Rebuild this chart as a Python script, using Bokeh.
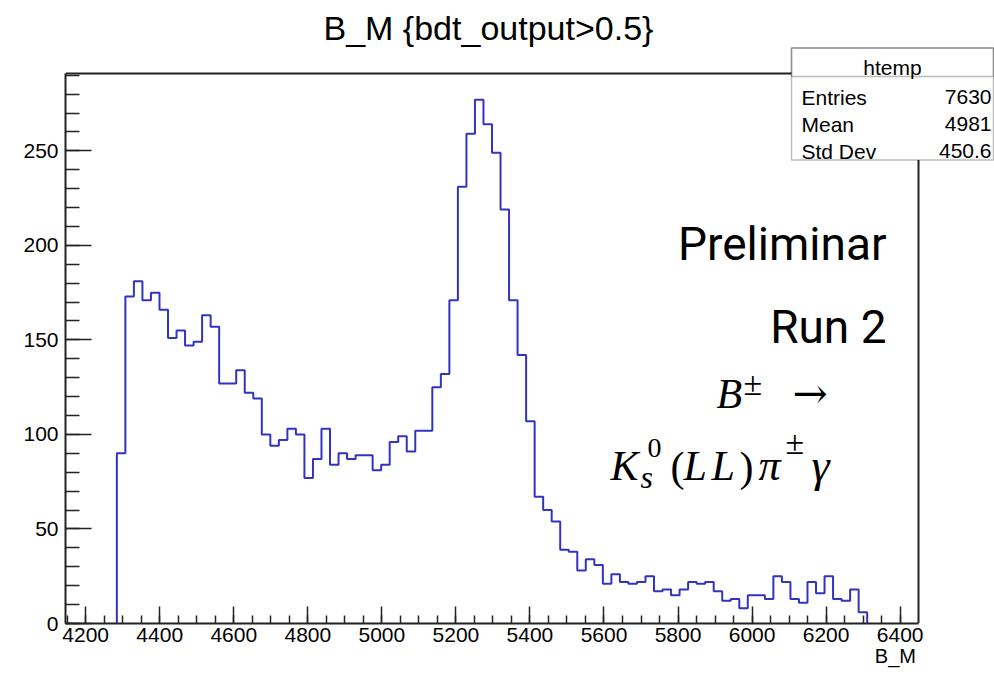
import numpy as np
from bokeh.plotting import figure
from bokeh.models import (Range1d, LinearAxis, FixedTicker, Label, BoxAnnotation, Title)
from bokeh.embed import file_html
from bokeh.resources import INLINE

# ---------------- data ----------------
bin_low = 4284.2
bin_width = 23.03
counts = [90, 173, 181, 171, 175, 166, 151, 155, 147, 149,
          163, 157, 127, 127, 134, 122, 119, 100, 94, 97,
          103, 100, 77, 87, 103, 84, 90, 87, 89, 89,
          81, 84, 96, 99, 91, 102, 102, 125, 132, 171,
          231, 259, 277, 264, 249, 219, 171, 142, 107, 67,
          60, 54, 39, 38, 28, 34, 31, 21, 26, 22,
          21, 22, 25, 17, 18, 15, 18, 22, 21, 22,
          17, 12, 13, 8, 15, 15, 13, 25, 22, 13,
          11, 22, 16, 25, 13, 12, 18, 6]
x_ticks = [4200, 4400, 4600, 4800, 5000, 5200, 5400, 5600, 5800, 6000, 6200, 6400]
y_ticks = [0, 50, 100, 150, 200, 250]
stats_title = "htemp"
stats_names = ["Entries", "Mean", "Std Dev"]
stats_values = ["7630", "4981", "450.6"]
title_text = "B_M {bdt_output>0.5}"
x_title = "B_M"

# ROOT frame (axis) range
RX0, RX1 = 4145.5, 6449.5
RY0, RY1 = 0.0, 290.9

# ---------------- geometry (pixels) ----------------
W, H = 994, 674
RL, RR, RT, RB = 65, 918, 73, 623       # ROOT frame on the canvas
FL, FR, FT, FB = 65, 994, 46, 623       # Bokeh frame (extended to hold the stats box)
sx = (RR - RL) / (RX1 - RX0)
sy = (RB - RT) / (RY1 - RY0)


def px2x(px):
    return RX0 + (px - RL) / sx


def px2y(py):
    return RY0 + (RB - py) / sy


p = figure(width=W, height=H,
           x_range=Range1d(px2x(FL), px2x(FR)), y_range=Range1d(px2y(FB), px2y(FT)),
           output_backend="svg", toolbar_location=None,
           x_axis_type=None, y_axis_type=None,
           min_border_left=FL, min_border_right=W - FR,
           min_border_top=FT, min_border_bottom=H - FB)
p.outline_line_color = None
p.background_fill_color = "white"
p.border_fill_color = "white"

AX_FONT = "Liberation Sans"
FRAME_COLOR = "#222222"

x_minor = list(np.arange(x_ticks[0] - 50, x_ticks[-1] + 1, 50))
y_minor = list(np.arange(0, 291, 10))

xaxis = LinearAxis(ticker=FixedTicker(ticks=x_ticks, minor_ticks=x_minor), bounds=(RX0, RX1))
xaxis.major_tick_in = 17
xaxis.major_tick_out = 0
xaxis.minor_tick_in = 8
xaxis.minor_tick_out = 0
yaxis = LinearAxis(ticker=FixedTicker(ticks=y_ticks, minor_ticks=y_minor), bounds=(RY0, RY1))
yaxis.major_tick_in = 26
yaxis.major_tick_out = 0
yaxis.minor_tick_in = 14
yaxis.minor_tick_out = 0
for ax in (xaxis, yaxis):
    ax.axis_line_width = 2
    ax.axis_line_color = FRAME_COLOR
    ax.major_tick_line_color = FRAME_COLOR
    ax.minor_tick_line_color = FRAME_COLOR
    ax.major_tick_line_width = 1.5
    ax.minor_tick_line_width = 1.5
    ax.major_label_text_font = AX_FONT
    ax.major_label_text_font_size = "21px"
    ax.major_label_text_color = "black"
xaxis.major_label_standoff = 4
yaxis.major_label_standoff = 7
p.add_layout(xaxis, "below")
p.add_layout(yaxis, "left")

# axis title "B_M", right-aligned at the end of the x axis
bm_pos = int(round(px2x(895)))
tax = LinearAxis(ticker=FixedTicker(ticks=[bm_pos], minor_ticks=[]),
                 major_label_overrides={bm_pos: x_title})
tax.axis_line_color = None
tax.major_tick_line_color = None
tax.minor_tick_line_color = None
tax.major_tick_out = 0
tax.major_tick_in = 0
tax.major_label_standoff = 0
tax.major_label_text_font = AX_FONT
tax.major_label_text_font_size = "20px"
tax.major_label_text_color = "black"
p.add_layout(tax, "below")

p.add_layout(Title(text=title_text, align="left", offset=258, text_font=AX_FONT,
                   text_font_size="34px", text_font_style="normal",
                   text_color="black", standoff=0), "above")

# top and right edges of the ROOT frame
p.line([RX0, RX1], [RY1, RY1], line_color=FRAME_COLOR, line_width=2)
p.line([RX1, RX1], [RY0, RY1], line_color=FRAME_COLOR, line_width=2)

# ---------------- histogram outline ----------------
edges = bin_low + bin_width * np.arange(len(counts) + 1)
xs = [edges[0]]
ys = [0]
for i, c in enumerate(counts):
    xs += [edges[i], edges[i + 1]]
    ys += [c, c]
xs.append(edges[-1])
ys.append(0)
p.line(xs, ys, line_color="#3333c2", line_width=2)

# ---------------- stats box ----------------
box = BoxAnnotation(left=px2x(791), right=px2x(993), top=px2y(47.5), bottom=px2y(159.5),
                    fill_color="white", fill_alpha=1.0, line_color=FRAME_COLOR,
                    line_width=1.5, level="annotation")
hdr = BoxAnnotation(left=px2x(791), right=px2x(993), top=px2y(47.5), bottom=px2y(76),
                    fill_alpha=0.0, line_color=FRAME_COLOR, line_width=1.5, level="annotation")
p.add_layout(box)
p.add_layout(hdr)

p.add_layout(Label(x=px2x(892), y=px2y(67), text=stats_title, text_align="center",
                   text_baseline="alphabetic", text_font=AX_FONT, text_font_size="21px",
                   text_color="black", level="overlay"))
for name, val, base in zip(stats_names, stats_values, [96.5, 123.5, 150.5]):
    p.add_layout(Label(x=px2x(801), y=px2y(base), text=name, text_align="left",
                       text_baseline="alphabetic", text_font=AX_FONT, text_font_size="21px",
                       text_color="black", level="overlay"))
    p.add_layout(Label(x=px2x(991), y=px2y(base), text=val, text_align="right",
                       text_baseline="alphabetic", text_font=AX_FONT, text_font_size="21px",
                       text_color="black", level="overlay"))

# ---------------- overlay texts ----------------
TXT_FONT = "Roboto"
p.add_layout(Label(x=px2x(886), y=px2y(243.5), text="Preliminar", text_align="right",
                   text_baseline="alphabetic", text_font=TXT_FONT, text_font_size="46px",
                   text_color="black"))
p.add_layout(Label(x=px2x(886), y=px2y(326), text="Run 2", text_align="right",
                   text_baseline="alphabetic", text_font=TXT_FONT, text_font_size="46px",
                   text_color="black"))

SERIF = "Liberation Serif"
pieces = [
    # text, left px, baseline px, size, style, font
    ("B", 716, 393, "42px", "italic", SERIF),
    ("\u00b1", 743, 383, "34px", "normal", SERIF),
    ("\u2192", 792, 393, "42px", "normal", "DejaVu Serif"),
    ("K", 610, 465, "42px", "italic", SERIF),
    ("s", 640, 476, "32px", "italic", SERIF),
    ("0", 647, 447, "28px", "normal", SERIF),
    ("(", 670, 466, "42px", "normal", SERIF),
    ("L", 683, 465, "42px", "italic", SERIF),
    ("L", 711, 465, "42px", "italic", SERIF),
    (")", 739, 466, "42px", "normal", SERIF),
    ("\u03c0", 758, 465, "44px", "italic", SERIF),
    ("\u00b1", 785, 442, "34px", "normal", SERIF),
    ("\u03b3", 811, 465, "46px", "italic", SERIF),
]
for txt, lx, by, size, style, font in pieces:
    p.add_layout(Label(x=px2x(lx), y=px2y(by), text=txt, text_align="left",
                       text_baseline="alphabetic", text_font=font, text_font_size=size,
                       text_font_style=style, text_color="black"))

open("out.html", "w").write(file_html(p, INLINE))
